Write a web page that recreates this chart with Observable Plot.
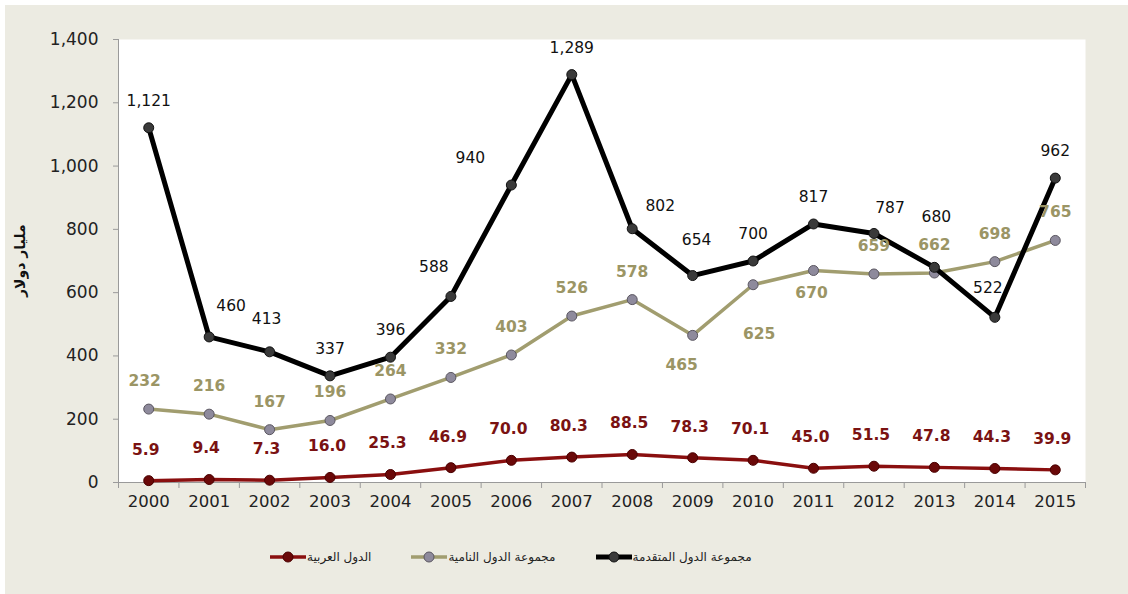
<!DOCTYPE html>
<html>
<head>
<meta charset="utf-8">
<script src="https://cdn.jsdelivr.net/npm/d3@7"></script>
<script src="https://cdn.jsdelivr.net/npm/@observablehq/plot@0.6"></script>
<style>
  html, body { margin: 0; padding: 0; background: #ffffff; }
  #bg { position: absolute; left: 0; top: 0; width: 1128px; height: 594px; background: #ecebe2;
        border-top: 5px solid #fff; border-left: 5px solid #fff; box-sizing: border-box; }
  #chart { position: absolute; left: 0; top: 0; }
  #legend { position: absolute; top: 550px; left: 270px; display: flex; align-items: center; gap: 40px;
            font-family: "DejaVu Sans", sans-serif; font-size: 12px; color: #222; }
  .item { display: flex; align-items: center; gap: 1px; }
  .item span { direction: rtl; }
</style>
</head>
<body>
<div id="bg"></div>
<div id="chart"></div>
<div id="legend"></div>
<script>
const years = [2000,2001,2002,2003,2004,2005,2006,2007,2008,2009,2010,2011,2012,2013,2014,2015];
const developed = [1121,460,413,337,396,588,940,1289,802,654,700,817,787,680,522,962];
const developing = [232,216,167,196,264,332,403,526,578,465,625,670,659,662,698,765];
const arab = [5.9,9.4,7.3,16.0,25.3,46.9,70.0,80.3,88.5,78.3,70.1,45.0,51.5,47.8,44.3,39.9];
const yTicks = [0,200,400,600,800,1000,1200,1400];
const seriesNames = ["مجموعة الدول المتقدمة", "مجموعة الدول النامية", "الدول العربية"];
const yLabel = "مليار دولار";

// label nudges (pixels) relative to each point
const devNudge = {2001:[22,-31],2002:[-3,-33],2005:[-17,-29],2006:[-41,-27],2008:[28,-23],2009:[4,-36],2012:[16,-25],2013:[2,-50],2014:[-7,-29]};
const dvgNudge = {2000:[-4,-28],2009:[-11,30],2010:[6,49],2011:[-2,23]};

const mk = (vals) => years.map((y,i) => ({year: y, value: vals[i]}));
const dDev = mk(developed), dDvg = mk(developing), dArab = mk(arab);

const colors = {
  dev: {line: "#000000", dot: "#3a3a3a", dotStroke: "#111", label: "#111"},
  dvg: {line: "#a19d6f", dot: "#8e8a9c", dotStroke: "#5a5660", label: "#9b9565"},
  arab: {line: "#8a0f0f", dot: "#6a0808", dotStroke: "#4a0000", label: "#7a1212"}
};

const fnt = "DejaVu Sans, sans-serif";
const labelMarks = [];
dDev.forEach(d => {
  const [dx, dy] = devNudge[d.year] || [0, -27];
  labelMarks.push(Plot.text([d], {x: "year", y: "value", text: v => d3.format(",")(v.value), dx, dy,
    fill: colors.dev.label, fontSize: 15.5, fontFamily: fnt}));
});
dDvg.forEach(d => {
  const [dx, dy] = dvgNudge[d.year] || [0, -28];
  labelMarks.push(Plot.text([d], {x: "year", y: "value", text: v => String(v.value), dx, dy,
    fill: colors.dvg.label, fontSize: 15.5, fontWeight: "bold", fontFamily: fnt}));
});
dArab.forEach(d => {
  labelMarks.push(Plot.text([d], {x: "year", y: "value", text: v => v.value.toFixed(1), dx: -3, dy: -31,
    fill: colors.arab.label, fontSize: 15.5, fontWeight: "bold", fontFamily: fnt}));
});

const boundaries = [1999.5, ...years.map(y => y + 0.5)];

const plot = Plot.plot({
  width: 1128,
  height: 530,
  marginTop: 39,
  marginBottom: 48,
  marginLeft: 118,
  marginRight: 43,
  style: {background: "transparent", fontFamily: fnt, color: "#222", overflow: "visible"},
  x: {type: "linear", domain: [1999.5, 2015.5], label: null, axis: null},
  y: {domain: [0, 1400], label: null, axis: null},
  marks: [
    Plot.frame({fill: "white", stroke: null}),
    Plot.ruleX([1999.5], {stroke: "#9a9a9a"}),
    Plot.ruleY([0], {stroke: "#9a9a9a"}),
    Plot.axisY({ticks: yTicks, tickSize: 5, tickPadding: 15, tickFormat: d3.format(","), fontSize: 17, stroke: "#9a9a9a", fill: "#222", label: null}),
    Plot.axisX({ticks: boundaries, tickSize: 6, tickFormat: () => "", stroke: "#9a9a9a", label: null}),
    Plot.axisX({ticks: years, tickSize: 0, tickPadding: 13, tickFormat: d => String(d), fontSize: 16.5, fill: "#222", label: null}),
    Plot.text([yLabel], {frameAnchor: "left", dx: -98, dy: 36, rotate: -90, text: d => d, fontSize: 14, fontWeight: "bold", fill: "#111", fontFamily: fnt}),
    Plot.line(dArab, {x: "year", y: "value", stroke: colors.arab.line, strokeWidth: 3.5}),
    Plot.dot(dArab, {x: "year", y: "value", r: 5, fill: colors.arab.dot, stroke: colors.arab.dotStroke, strokeWidth: 1}),
    Plot.line(dDvg, {x: "year", y: "value", stroke: colors.dvg.line, strokeWidth: 3.5}),
    Plot.dot(dDvg, {x: "year", y: "value", r: 5, fill: colors.dvg.dot, stroke: colors.dvg.dotStroke, strokeWidth: 1}),
    Plot.line(dDev, {x: "year", y: "value", stroke: colors.dev.line, strokeWidth: 5}),
    Plot.dot(dDev, {x: "year", y: "value", r: 5, fill: colors.dev.dot, stroke: colors.dev.dotStroke, strokeWidth: 1}),
    ...labelMarks
  ]
});
document.getElementById("chart").appendChild(plot);

// legend: left-to-right order as in the reference
const legendOrder = [
  {name: seriesNames[2], c: colors.arab, w: 3.5},
  {name: seriesNames[1], c: colors.dvg, w: 3.5},
  {name: seriesNames[0], c: colors.dev, w: 5}
];
const leg = d3.select("#legend");
legendOrder.forEach(s => {
  const it = leg.append("div").attr("class", "item");
  const sv = it.append("svg").attr("width", 36).attr("height", 14);
  sv.append("line").attr("x1", 0).attr("x2", 36).attr("y1", 7).attr("y2", 7).attr("stroke", s.c.line).attr("stroke-width", s.w);
  sv.append("circle").attr("cx", 18).attr("cy", 7).attr("r", 5).attr("fill", s.c.dot).attr("stroke", s.c.dotStroke);
  it.append("span").text(s.name);
});
</script>
</body>
</html>
